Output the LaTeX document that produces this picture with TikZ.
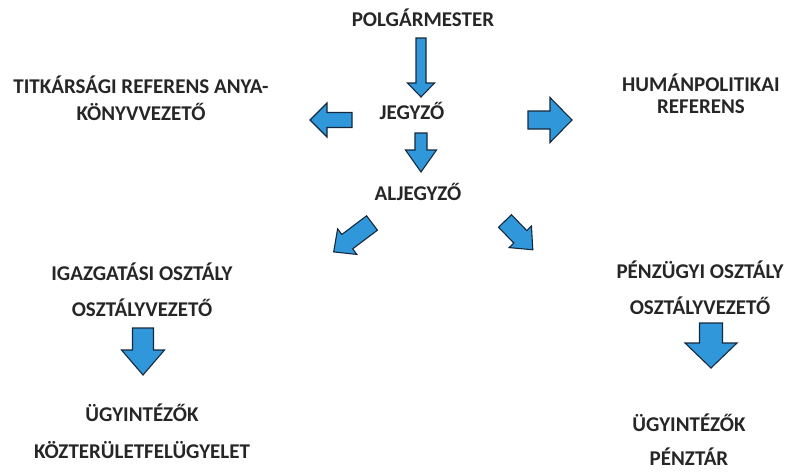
\documentclass[tikz,border=0pt]{standalone}
\usepackage{fontspec}
\setmainfont{Carlito}
\usetikzlibrary{positioning}
\definecolor{arrowblue}{RGB}{48,152,218}
\definecolor{arrowedge}{RGB}{22,40,60}
\tikzset{
    unit/.style={font=\bfseries\fontsize{21}{36}\selectfont, align=center, inner sep=0pt, text=black!85},
    unittight/.style={unit, font=\bfseries\fontsize{21}{24}\selectfont},
    barrowline/.style={fill=arrowblue, draw=arrowedge, line width=1.1pt, line join=miter},
    pics/barrow/.style n args={4}{code={
        \draw[barrowline] (0,-#2) -- ({#1-#4},-#2) -- ({#1-#4},-#3) -- (#1,0)
            -- ({#1-#4},#3) -- ({#1-#4},#2) -- (0,#2) -- cycle;
    }},
}
\begin{document}
\begin{tikzpicture}[x=1pt, y=1pt]
    \useasboundingbox (0,0) rectangle (792,-472);

    % top of the chart
    \node[unit] (polg) at (423,-18) {POLGÁRMESTER};
    \node[unit] (jegy) at (412,-111) {JEGYZŐ};
    \node[unit] (alje) at (418,-192) {ALJEGYZŐ};

    % side units
    \node[unittight, font=\bfseries\fontsize{21}{27}\selectfont] (titk) at (141,-98) {TITKÁRSÁGI REFERENS ANYA-\\KÖNYVVEZETŐ\hspace{20pt}};
    \node[unittight, font=\bfseries\fontsize{21}{22}\selectfont] (hum) at (701,-94) {HUMÁNPOLITIKAI\\REFERENS};

    % departments
    \node[unit] (igaz) at (142,-290) {IGAZGATÁSI OSZTÁLY\\OSZTÁLYVEZETŐ};
    \node[unit] (penz) at (700,-288) {PÉNZÜGYI OSZTÁLY\\OSZTÁLYVEZETŐ};
    \node[unit, font=\bfseries\fontsize{21}{37}\selectfont] (ugyl) at (142,-431) {ÜGYINTÉZŐK\\KÖZTERÜLETFELÜGYELET};
    \node[unit, font=\bfseries\fontsize{21}{34}\selectfont] (ugyr) at (689,-440) {ÜGYINTÉZŐK\\PÉNZTÁR};

    % block arrows: x/y/angle/length/shaft/head/headlength
    \foreach \px/\py/\ang/\len/\sh/\hh/\hl in {
        421/-38/-90/59/5/13.5/14,
        421/-133/-90/39/6/15.5/22,
        352/-120/180/42/7.5/17/17,
        528/-120/0/44/9/22.5/22,
        372/-223/217/48/9/16/17,
        505/-221/-46/40/9/15.5/18,
        143/-328/-90/47/10.5/21.5/25,
        711/-323/-90/45/11.5/26/25} {
        \pic[rotate=\ang] at (\px,\py) {barrow={\len}{\sh}{\hh}{\hl}};
    }
\end{tikzpicture}
\end{document}
